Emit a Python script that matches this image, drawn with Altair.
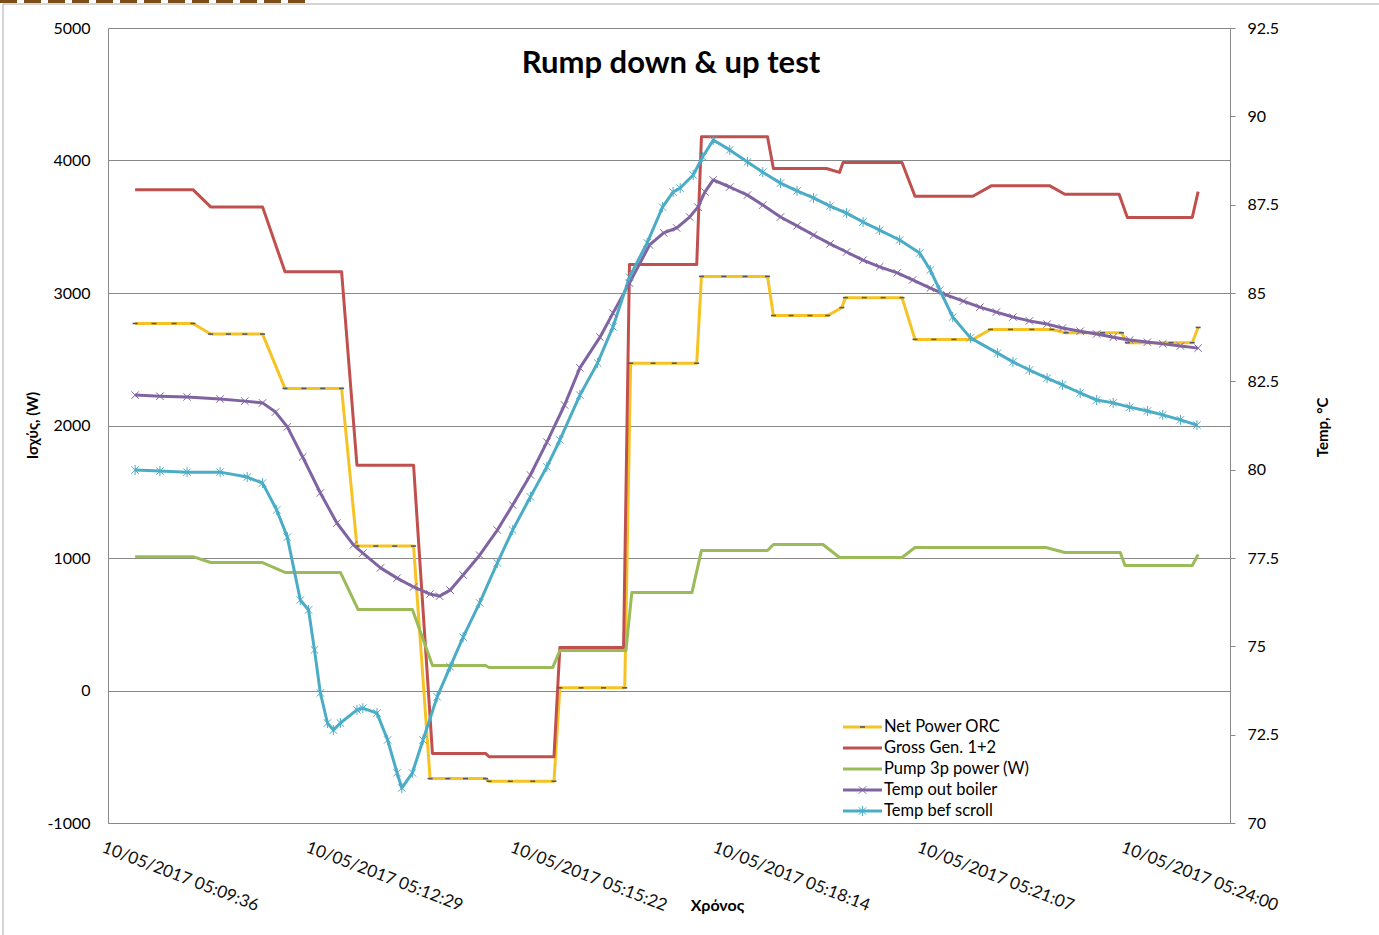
import altair as alt
import pandas as pd

chart_title = "Rump down & up test"
x_title = "Χρόνος"
left_title = "Ισχύς, (W)"
right_title = "Temp, °C"

series_names = ["Net Power ORC", "Gross Gen. 1+2", "Pump 3p power (W)",
                "Temp out boiler", "Temp bef scroll"]
series_colors = ["#F6C325", "#C0504D", "#9BBB59", "#8064A2", "#4BACC6"]

# x positions are seconds elapsed since 10/05/2017 05:09:36
tick_seconds = [0, 173, 346, 518, 691, 864]
tick_labels = ["10/05/2017 05:09:36", "10/05/2017 05:12:29", "10/05/2017 05:15:22",
               "10/05/2017 05:18:14", "10/05/2017 05:21:07", "10/05/2017 05:24:00"]
power_ticks = [-1000, 0, 1000, 2000, 3000, 4000, 5000]
temp_ticks = [70, 72.5, 75, 77.5, 80, 82.5, 85, 87.5, 90, 92.5]

# Net Power ORC (W)
net_t = [0, 16, 33, 49, 64, 79, 93, 108, 127, 143, 159, 175, 188, 204, 220, 236,
         250, 265, 280, 297, 300, 318, 337, 355, 360, 378, 397, 415, 420, 439, 457, 476,
         480, 499, 517, 536, 541, 556, 572, 587, 599, 602, 618, 634, 650, 661, 677, 694, 710,
         725, 742, 760, 777, 789, 805, 820, 836, 841, 859, 878, 896, 901]
net_w = [2770, 2770, 2770, 2770, 2690, 2690, 2690, 2690, 2280, 2280, 2280, 2280,
         1090, 1090, 1090, 1090, -665, -665, -665, -665, -685, -685, -685, -685,
         20, 20, 20, 20, 2470, 2470, 2470, 2470, 3125, 3125, 3125, 3125,
         2830, 2830, 2830, 2830, 2890, 2965, 2965, 2965, 2965, 2650, 2650, 2650, 2650,
         2725, 2725, 2725, 2725, 2700, 2700, 2700, 2700, 2625, 2625, 2625, 2625, 2740]

# Gross Gen. 1+2 (W)
gross_t = [0, 49, 64, 108, 127, 175, 188, 236, 252, 297, 300, 355, 360, 414, 419, 476,
           480, 536, 541, 586, 597, 600, 650, 661, 710, 726, 775, 788, 834, 841, 896, 901]
gross_w = [3780, 3780, 3650, 3650, 3160, 3160, 1700, 1700, -475, -475, -500, -500,
           325, 325, 3215, 3215, 4180, 4180, 3940, 3940, 3910, 3985, 3985, 3730, 3730,
           3810, 3810, 3745, 3745, 3570, 3570, 3765]

# Pump 3p power (W)
pump_t = [0, 49, 64, 108, 127, 174, 189, 235, 252, 297, 300, 354, 360, 416, 421, 472,
          480, 536, 541, 583, 597, 650, 661, 772, 788, 835, 839, 896, 901]
pump_w = [1010, 1010, 966, 966, 891, 891, 611, 611, 189, 189, 174, 174, 302, 302,
          740, 740, 1057, 1057, 1102, 1102, 1004, 1004, 1079, 1079, 1041, 1041, 943, 943, 1026]

# Temp out boiler (°C)
boiler_t = [0, 21, 44, 72, 93, 108, 119, 129, 142, 157, 171, 185, 193, 208, 222, 236,
            250, 258, 267, 278, 292, 307, 320, 335, 349, 364, 377, 394, 405, 419, 436,
            448, 459, 470, 477, 483, 490, 504, 519, 532, 547, 561, 575, 589, 603, 617,
            631, 646, 659, 674, 688, 702, 716, 730, 744, 758, 773, 786, 801, 815, 829,
            843, 858, 871, 886, 901]
boiler_c = [82.11, 82.08, 82.06, 82.00, 81.94, 81.89, 81.63, 81.21, 80.36, 79.34,
            78.49, 77.87, 77.64, 77.22, 76.93, 76.68, 76.48, 76.42, 76.59, 77.02,
            77.58, 78.29, 79.00, 79.85, 80.78, 81.83, 82.88, 83.75, 84.43, 85.28, 86.36,
            86.70, 86.84, 87.15, 87.43, 87.86, 88.20, 88.00, 87.77, 87.49, 87.15,
            86.90, 86.64, 86.39, 86.16, 85.93, 85.74, 85.57, 85.37, 85.14, 84.94,
            84.77, 84.60, 84.46, 84.32, 84.21, 84.12, 84.01, 83.92, 83.84, 83.75,
            83.67, 83.61, 83.56, 83.50, 83.44]

# Temp bef scroll (°C)
scroll_t = [0, 21, 44, 72, 95, 108, 120, 129, 140, 147, 152, 157, 163, 168, 174, 188,
            193, 205, 214, 222, 226, 235, 244, 256, 267, 278, 292, 307, 320, 335, 349,
            360, 377, 392, 405, 419, 434, 447, 456, 462, 473, 481, 490, 504, 519, 532,
            547, 561, 575, 589, 603, 617, 631, 648, 665, 674, 682, 693, 708, 731, 744,
            758, 773, 786, 801, 815, 829, 843, 858, 871, 886, 900]
scroll_c = [79.99, 79.96, 79.93, 79.93, 79.79, 79.62, 78.86, 78.09, 76.31, 76.03,
            74.90, 73.68, 72.83, 72.63, 72.83, 73.20, 73.25, 73.11, 72.35, 71.42,
            70.99, 71.42, 72.35, 73.57, 74.42, 75.26, 76.23, 77.36, 78.29, 79.23,
            80.08, 80.84, 82.11, 83.02, 84.04, 85.45, 86.42, 87.43, 87.86, 87.97,
            88.34, 88.85, 89.33, 89.05, 88.71, 88.42, 88.11, 87.89, 87.69, 87.46,
            87.26, 87.01, 86.78, 86.50, 86.13, 85.65, 85.08, 84.32, 83.73, 83.30,
            83.05, 82.82, 82.59, 82.40, 82.17, 81.97, 81.89, 81.77, 81.66, 81.55,
            81.41, 81.26]


def frame(name, t, v):
    return pd.DataFrame({"series": name, "t": t, "value": v})


net_df = frame(series_names[0], net_t, net_w)
power_df = pd.concat([net_df,
                      frame(series_names[1], gross_t, gross_w),
                      frame(series_names[2], pump_t, pump_w)], ignore_index=True)
boiler_df = frame(series_names[3], boiler_t, boiler_c)
scroll_df = frame(series_names[4], scroll_t, scroll_c)
temp_df = pd.concat([boiler_df, scroll_df], ignore_index=True)
legend_df = pd.DataFrame({"series": series_names, "row": list(range(len(series_names)))})

FONT = "Lato"
GREY = "#898989"
DASH_MARK = "M-1,0H1"
CROSS_MARK = "M-1,-1L1,1M-1,1L1,-1"
STAR_MARK = "M-1,-1L1,1M-1,1L1,-1M0,-1.35V1.35"
DASH_COLOR = "#4F5B6B"

label_expr = "''"
for s, lab in reversed(list(zip(tick_seconds, tick_labels))):
    label_expr = f"datum.value == {s} ? '{lab}' : ({label_expr})"

x_enc = alt.X(
    "t:Q",
    scale=alt.Scale(domain=[-23, 928], nice=False, zero=False),
    axis=alt.Axis(values=tick_seconds, labelExpr=label_expr, labelAngle=21,
                  labelAlign="left", labelBaseline="top", labelOffset=-30,
                  labelPadding=16, labelFont=FONT, labelFontSize=17, labelColor="#111",
                  labelOverlap=False, labelBound=False, labelFlush=False,
                  ticks=False, grid=False, domainColor=GREY,
                  title=x_title, titleFont=FONT, titleFontSize=16, titleFontWeight="bold",
                  titleColor="#000", titleX=609, titleY=82, titleAlign="center",
                  titleBaseline="middle"),
)
color_enc = alt.Color("series:N", scale=alt.Scale(domain=series_names, range=series_colors),
                      legend=None)

y_power = alt.Y(
    "value:Q",
    scale=alt.Scale(domain=[-1000, 5000], nice=False, zero=False),
    axis=alt.Axis(orient="left", values=power_ticks, labelExpr="'' + datum.value",
                  grid=True, gridColor=GREY, gridWidth=1, ticks=False, domainColor=GREY,
                  labelPadding=18, labelFont=FONT, labelFontSize=16, labelColor="#000",
                  title=left_title, titleFont=FONT, titleFontSize=15, titleFontWeight="bold",
                  titleColor="#000", titleAngle=270, titleX=-76, titleY=397,
                  titleAlign="center", titleBaseline="middle"),
)
y_temp = alt.Y(
    "value:Q",
    scale=alt.Scale(domain=[70, 92.5], nice=False, zero=False),
    axis=alt.Axis(orient="right", values=temp_ticks, labelExpr="'' + datum.value",
                  grid=False, ticks=True, tickSize=5, tickColor=GREY, domainColor=GREY,
                  labelPadding=12, labelFont=FONT, labelFontSize=16, labelColor="#000",
                  title=right_title, titleFont=FONT, titleFontSize=15, titleFontWeight="bold",
                  titleColor="#000", titleAngle=270, titleX=92, titleY=399,
                  titleAlign="center", titleBaseline="middle"),
)

# primary axis: power series
power_lines = alt.Chart(power_df).mark_line(strokeWidth=3, strokeJoin="round").encode(
    x=x_enc, y=y_power, color=color_enc, order="t:Q")
net_marks = alt.Chart(net_df).mark_point(
    shape=DASH_MARK, size=25, strokeWidth=1.6, color=DASH_COLOR, filled=False, opacity=1
).encode(x=x_enc, y=y_power)
left_group = alt.layer(power_lines, net_marks)

# secondary axis: temperatures
temp_lines = alt.Chart(temp_df).mark_line(strokeWidth=3, strokeJoin="round").encode(
    x=x_enc, y=y_temp, color=color_enc, order="t:Q")
boiler_marks = alt.Chart(boiler_df).mark_point(
    shape=CROSS_MARK, size=55, strokeWidth=1, color="#8064A2", filled=False, opacity=1
).encode(x=x_enc, y=y_temp)
scroll_marks = alt.Chart(scroll_df).mark_point(
    shape=STAR_MARK, size=55, strokeWidth=1, color="#4BACC6", filled=False, opacity=1
).encode(x=x_enc, y=y_temp)
right_group = alt.layer(temp_lines, boiler_marks, scroll_marks)

# legend, title and frame drawn as marks
legend_y = alt.Y("row:Q", scale=alt.Scale(domain=[0, len(series_names) - 1], range=[699, 783]),
                 axis=None)
leg_lines = alt.Chart(legend_df).mark_rule(strokeWidth=3).encode(
    x=alt.value(735), x2=alt.value(774), y=legend_y, color=color_enc)
leg_net = alt.Chart(legend_df).transform_filter(
    alt.datum.series == series_names[0]).mark_point(
    shape=DASH_MARK, size=25, strokeWidth=1.6, color=DASH_COLOR, filled=False, opacity=1
).encode(x=alt.value(754.5), y=legend_y)
leg_boiler = alt.Chart(legend_df).transform_filter(
    alt.datum.series == series_names[3]).mark_point(
    shape=CROSS_MARK, size=55, strokeWidth=1, color="#8064A2", filled=False, opacity=1
).encode(x=alt.value(754.5), y=legend_y)
leg_scroll = alt.Chart(legend_df).transform_filter(
    alt.datum.series == series_names[4]).mark_point(
    shape=STAR_MARK, size=55, strokeWidth=1, color="#4BACC6", filled=False, opacity=1
).encode(x=alt.value(754.5), y=legend_y)
leg_text = alt.Chart(legend_df).mark_text(
    align="left", baseline="middle", font=FONT, fontSize=16.5, color="#000"
).encode(x=alt.value(776), y=legend_y, text="series:N")

title_mark = alt.Chart(pd.DataFrame({"label": [chart_title]})).mark_text(
    font=FONT, fontSize=31, fontWeight="bold", align="center", baseline="middle", color="#000"
).encode(x=alt.value(563), y=alt.value(36), text="label:N")

one_row = pd.DataFrame({"k": [0]})
outer_frame = alt.Chart(one_row).mark_rect(
    fillOpacity=0, stroke="#ababab", strokeWidth=1
).encode(x=alt.value(-105), x2=alt.value(1320), y=alt.value(-24), y2=alt.value(960))
top_band = alt.Chart(one_row).mark_rule(
    color="#7d4e1a", strokeWidth=5, strokeDash=[17, 7]
).encode(x=alt.value(-108), x2=alt.value(200), y=alt.value(-27.5))

extras = alt.layer(outer_frame, top_band, title_mark, leg_lines, leg_net, leg_boiler,
                   leg_scroll, leg_text)

chart = alt.layer(left_group, right_group, extras).resolve_scale(
    y="independent"
).properties(
    width=1122, height=795,
    autosize=alt.AutoSizeParams(type="none"),
    padding={"left": 108, "top": 28, "right": 149, "bottom": 112},
    background="white",
).configure_view(stroke=GREY, strokeWidth=1).configure(font=FONT)

chart.save("out.html", embed_options={"renderer": "svg", "actions": False})
